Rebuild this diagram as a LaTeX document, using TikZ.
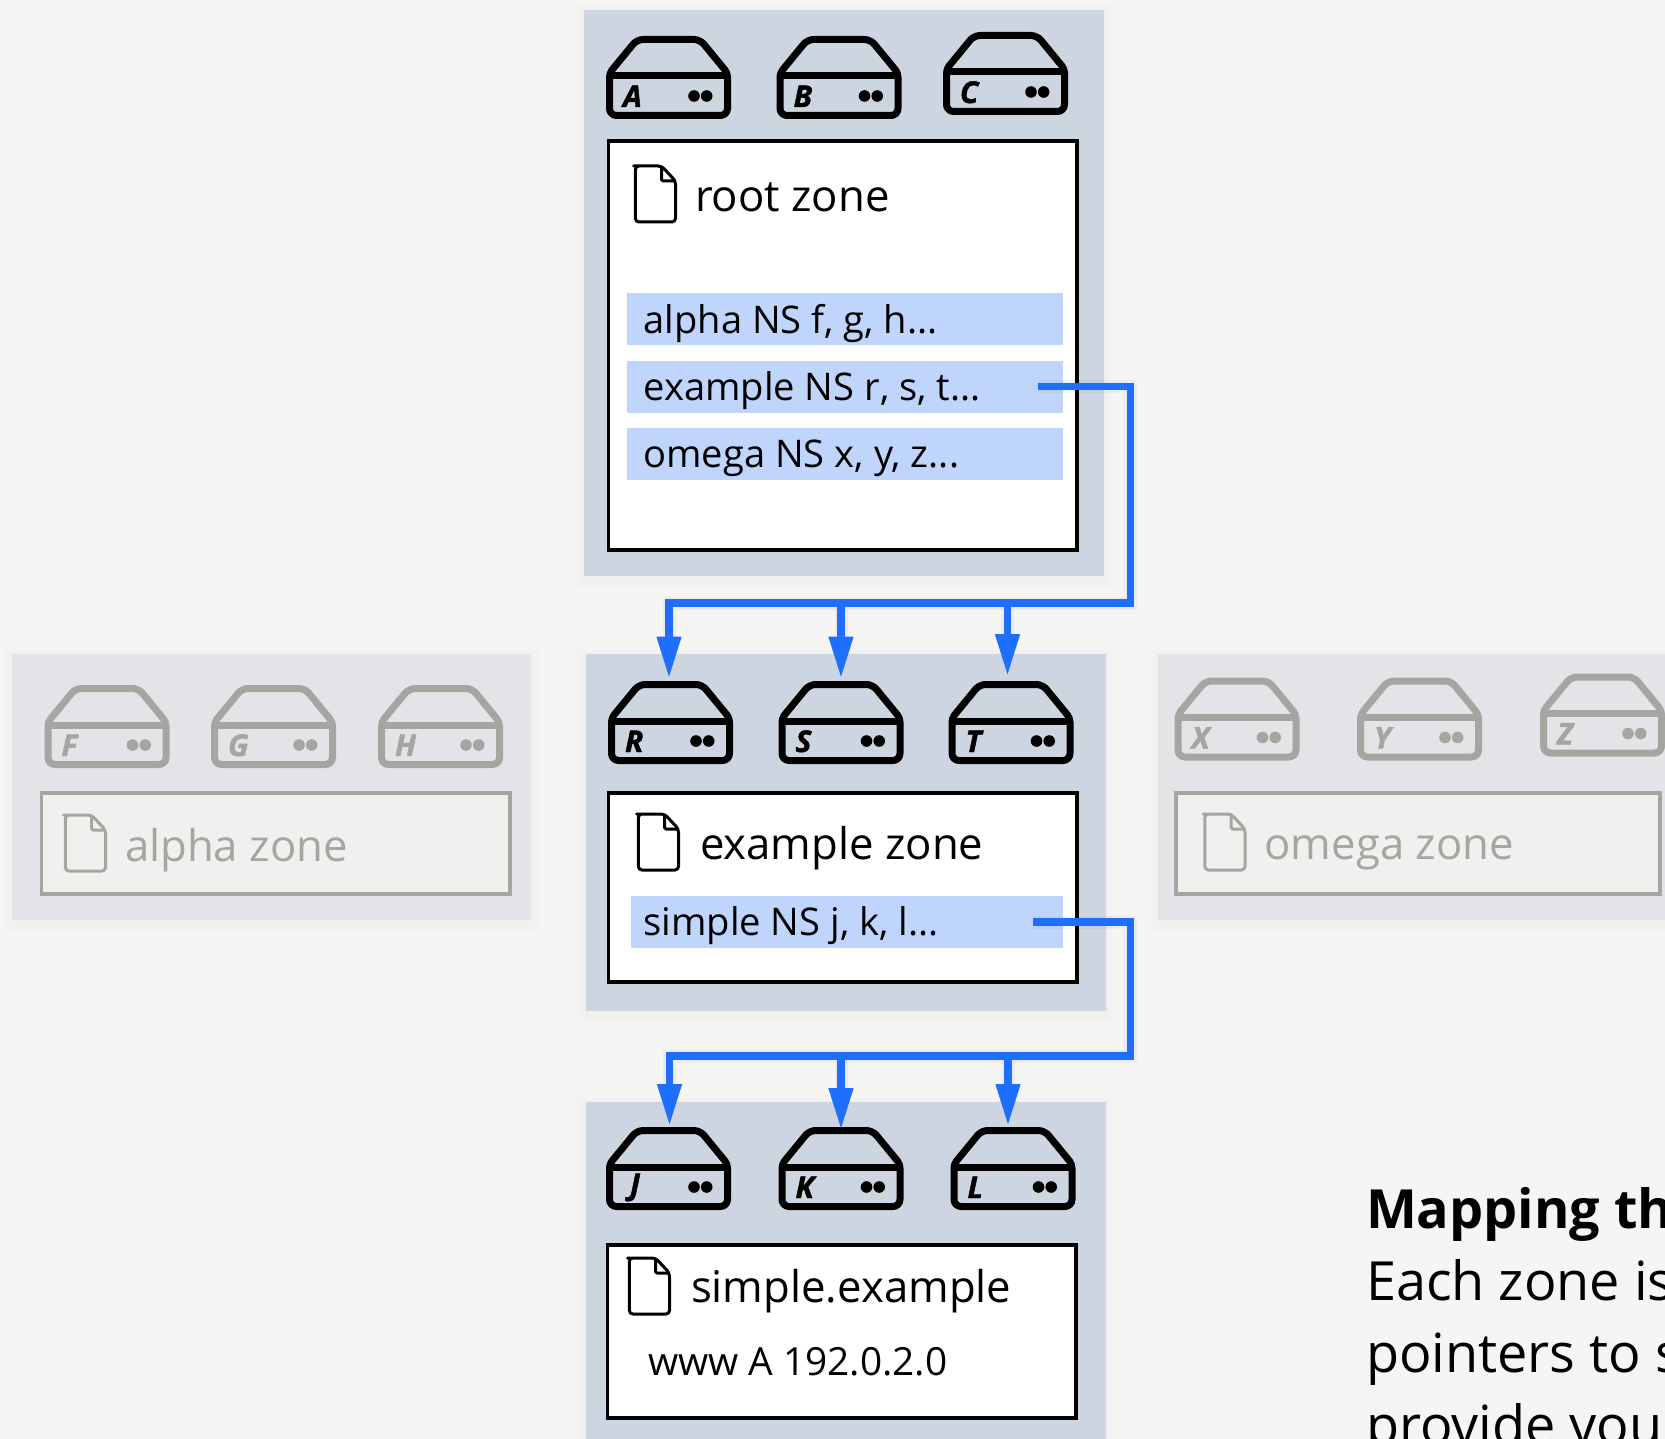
\documentclass[tikz,border=0pt]{standalone}
\usepackage{fontspec}
\setmainfont{Open Sans}
\newfontfamily\srvfont[FakeBold=1.5]{Open Sans Bold Italic}
\usetikzlibrary{arrows.meta}
\definecolor{bgc}{HTML}{F6F5F3}
\definecolor{panelc}{HTML}{CDD6E0}
\definecolor{panelg}{HTML}{E2E4E7}
\definecolor{boxg}{HTML}{F0F0EE}
\definecolor{rowc}{HTML}{C0D5FC}
\definecolor{wirec}{HTML}{1F6FFF}
\definecolor{greyc}{HTML}{A5A5A2}
\tikzset{
  x=1pt,y=-1pt,
  every node/.style={inner sep=0pt,outer sep=0pt},
  panel/.style={fill=panelc},
  panelfade/.style={fill=panelg},
  zonebox/.style={draw=black,fill=white,line width=3.2pt},
  zonefade/.style={draw=greyc,fill=boxg,line width=3.2pt},
  rowbar/.style={fill=rowc},
  srvline/.style={line width=7pt,line join=round},
  docline/.style={line width=3pt,line join=round},
  titletext/.style={anchor=base west,font=\fontsize{43.7}{44}\selectfont},
  rowtext/.style={anchor=base west,font=\fontsize{38.1}{38}\selectfont},
  bodytext/.style={anchor=base west,font=\fontsize{54}{54}\selectfont},
  wire/.style={draw=wirec,line width=7.5pt},
  arrowwire/.style={wire,-{Triangle[length=42pt,width=23pt]}},
  wireshade/.style={draw=black,opacity=0.035,line width=13pt},
}
\newcommand{\rectnode}[6]{%
  \pgfmathsetmacro{\rw}{#6-#4}\pgfmathsetmacro{\rh}{#5-#3}%
  \node[#2,anchor=north west,minimum width=\rh pt,minimum height=\rw pt] (#1) at (#3,#4) {};}
\newcommand{\softshadow}[4]{%
  \foreach \d in {2,4,6,8,10}{%
    \fill[black,opacity=0.004] ({#1-\d},{#2-\d+3}) rectangle ({#3+\d},{#4+\d+3});}}
% name, x, y, letter, colour
\newcommand{\server}[5]{%
  \node[anchor=north west,minimum width=125pt,minimum height=83pt] (#1) at (#2,#3) {};
  \begin{scope}[shift={(#1.north west)},#5]
    \draw[srvline] (60,79.5) [rounded corners=7pt] -- (3.5,79.5) [rounded corners=4pt] -- (3.5,37) [rounded corners=6pt] -- (31,3.5) -- (94,3.5) [rounded corners=4pt] -- (121.5,37) [rounded corners=7pt] -- (121.5,79.5) -- cycle;
    \draw[srvline] (3.5,40) -- (121.5,40);
    \fill (88,60) circle (5.8pt);
    \fill (100.7,60) circle (5.8pt);
    \node[anchor=base west,font=\fontsize{30}{30}\selectfont\srvfont] (#1-label) at (17,71) {#4};
  \end{scope}}
% x, y, colour
\newcommand{\docicon}[3]{%
  \begin{scope}[shift={(#1,#2)},#3]
    \draw[docline,rounded corners=3.5pt] (3,0) -- (27.5,0) -- (41.5,15) -- (41.5,56) -- (1.4,56) -- (1.4,0) -- cycle;
    \draw[docline,rounded corners=1.5pt] (27.5,0) -- (27.5,15) -- (41.5,15);
  \end{scope}}
\begin{document}
\begin{tikzpicture}
\path[use as bounding box,fill=bgc] (0,0) rectangle (1665,1439);
\clip (0,0) rectangle (1665,1439);

% panels
\softshadow{584}{10}{1104}{576}
\softshadow{586}{654}{1106}{1011}
\softshadow{586}{1102}{1106}{1439}
\softshadow{12}{654}{531}{920}
\softshadow{1158}{654}{1665}{920}
\rectnode{rootpanel}{panel}{584}{10}{1104}{576}
\rectnode{examplepanel}{panel}{586}{654}{1106}{1011}
\rectnode{simplepanel}{panel}{586}{1102}{1106}{1439}
\rectnode{alphapanel}{panelfade}{12}{654}{531}{920}
\rectnode{omegapanel}{panelfade}{1158}{654}{1665}{920}

% zone boxes
\rectnode{rootbox}{zonebox}{608.5}{141}{1077}{550}
\rectnode{examplebox}{zonebox}{608.5}{793}{1077}{982}
\rectnode{simplebox}{zonebox}{607.5}{1245}{1076}{1418}
\rectnode{alphabox}{zonefade}{41.5}{793}{510}{894}
\rectnode{omegabox}{zonefade}{1176}{793}{1660}{894}

% delegation rows
\rectnode{rowalpha}{rowbar}{626.5}{293}{1063}{345}
\rectnode{rowexample}{rowbar}{626.5}{361}{1063}{413}
\rectnode{rowomega}{rowbar}{626.5}{428}{1063}{480}
\rectnode{rowsimple}{rowbar}{630.5}{896}{1063}{948}

% servers
\server{srvA}{606}{36}{A}{black}
\server{srvB}{776.5}{36}{B}{black}
\server{srvC}{943}{32}{C}{black}
\server{srvF}{44.5}{685}{F}{greyc}
\server{srvG}{211}{685}{G}{greyc}
\server{srvH}{378}{685}{H}{greyc}
\server{srvR}{608}{681}{R}{black}
\server{srvS}{778.5}{681}{S}{black}
\server{srvT}{948.5}{681}{T}{black}
\server{srvX}{1174.5}{677.5}{X}{greyc}
\server{srvY}{1357}{677.5}{Y}{greyc}
\server{srvZ}{1540}{673.5}{Z}{greyc}
\server{srvJ}{606}{1127}{\kern7pt\raisebox{3pt}{J}}{black}
\server{srvK}{778.5}{1127}{K}{black}
\server{srvL}{950.5}{1127}{L}{black}

% documents
\docicon{634}{166}{black}
\docicon{637}{814}{black}
\docicon{628}{1258}{black}
\docicon{64}{815}{greyc}
\docicon{1203.5}{814}{greyc}

% labels
\node[titletext] (trootzone) at (695,212) {root zone};
\node[titletext] (texamplezone) at (700,859) {example zone};
\node[titletext] (tsimple) at (691,1302) {simple.example};
\node[titletext,text=greyc] (talpha) at (125,861) {alpha zone};
\node[titletext,text=greyc] (tomega) at (1264.5,859) {omega zone};
\node[rowtext] (lalpha) at (643.5,333) {alpha NS f, g, h...};
\node[rowtext] (lexample) at (643.5,400.5) {example NS r, s, t...};
\node[rowtext] (lomega) at (643.5,467) {omega NS x, y, z...};
\node[rowtext] (lsimple) at (643.5,935.5) {simple NS j, k, l...};
\node[rowtext,font=\fontsize{38.8}{39}\selectfont] (lwww) at (648,1375) {www A 192.0.2.0};

% side text
\node[bodytext,font=\fontsize{54}{54}\selectfont\bfseries] (bt1) at (1366,1228) {Mapping th};
\node[bodytext] (bt2) at (1366,1300) {Each zone is};
\node[bodytext] (bt3) at (1366,1372) {pointers to s};
\node[bodytext] (bt4) at (1366,1444) {provide you};

% connectors
\coordinate (src1) at (1037.5,386.5);
\coordinate (turn1) at (1130.5,603);
\path (srvR.north) ++(-1.5,-2.5) coordinate (tipR);
\path (srvS.north) ++(0,-2.5) coordinate (tipS);
\path (srvT.north) ++(-3.5,-5) coordinate (tipT);
\coordinate (src2) at (1033,922);
\coordinate (turn2) at (1130.5,1056);
\path (srvJ.north) ++(1,-1) coordinate (tipJ);
\path (srvK.north) ++(0,3) coordinate (tipK);
\path (srvL.north) ++(-5,-1) coordinate (tipL);

\draw[wireshade] (src1) -| (turn1) -- (tipR |- turn1) -- (tipR |- 0,638);
\draw[wireshade] (tipS |- turn1) -- (tipS |- 0,638);
\draw[wireshade] (tipT |- turn1) -- (tipT |- 0,638);
\draw[wireshade] (src2) -| (turn2) -- (tipJ |- turn2) -- (tipJ |- 0,1084);
\draw[wireshade] (tipK |- turn2) -- (tipK |- 0,1088);
\draw[wireshade] (tipL |- turn2) -- (tipL |- 0,1084);

\draw[wire] (src1) -| (turn1) -- (tipR |- turn1) -- ++(0,10);
\draw[arrowwire] (tipR |- turn1) -- (tipR);
\draw[arrowwire] (tipS |- turn1) -- (tipS);
\draw[arrowwire] (tipT |- turn1) -- (tipT);

\draw[wire] (src2) -| (turn2) -- (tipJ |- turn2) -- ++(0,10);
\draw[arrowwire] (tipJ |- turn2) -- (tipJ);
\draw[arrowwire] (tipK |- turn2) -- (tipK);
\draw[arrowwire] (tipL |- turn2) -- (tipL);
\end{tikzpicture}
\end{document}
